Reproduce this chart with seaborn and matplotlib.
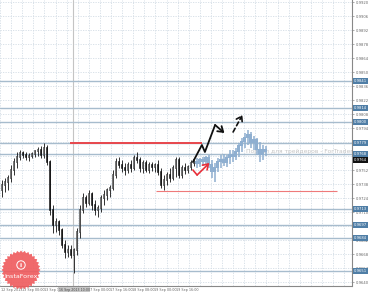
import numpy as np
import pandas as pd
import matplotlib
matplotlib.use("Agg")
import matplotlib.pyplot as plt
import seaborn as sns
from matplotlib.patches import Polygon, Circle
import matplotlib.transforms as mtransforms

# ---------------- data ----------------
opens = [0.9732, 0.9737, 0.9740, 0.9744, 0.9752, 0.9760, 0.9765, 0.9769, 0.9767, 0.9765,
         0.9766, 0.9768, 0.9771, 0.9772, 0.9767, 0.9774, 0.9760, 0.9712, 0.9697, 0.9700,
         0.9692, 0.9677, 0.9670, 0.9672, 0.9667, 0.9672, 0.9690, 0.9712, 0.9724, 0.9719,
         0.9728, 0.9717, 0.9712, 0.9714, 0.9724, 0.9727, 0.9732, 0.9734, 0.9747, 0.9760,
         0.9757, 0.9754, 0.9752, 0.9757, 0.9754, 0.9764, 0.9762, 0.9754, 0.9759, 0.9752,
         0.9757, 0.9755, 0.9757, 0.9750, 0.9737, 0.9742, 0.9747, 0.9744, 0.9754, 0.9762,
         0.9747, 0.9754, 0.9752, 0.9755, 0.9759]
highs = [0.9742, 0.9744, 0.9747, 0.9757, 0.9764, 0.9770, 0.9772, 0.9771, 0.9770, 0.9769,
         0.9770, 0.9772, 0.9775, 0.9776, 0.9779, 0.9777, 0.9762, 0.9717, 0.9704, 0.9702,
         0.9694, 0.9682, 0.9677, 0.9677, 0.9674, 0.9694, 0.9717, 0.9729, 0.9727, 0.9732,
         0.9730, 0.9722, 0.9717, 0.9727, 0.9732, 0.9734, 0.9737, 0.9752, 0.9764, 0.9765,
         0.9762, 0.9759, 0.9760, 0.9762, 0.9767, 0.9770, 0.9765, 0.9762, 0.9762, 0.9760,
         0.9760, 0.9759, 0.9762, 0.9754, 0.9747, 0.9750, 0.9754, 0.9757, 0.9765, 0.9765,
         0.9757, 0.9759, 0.9757, 0.9762, 0.9764]
lows = [0.9725, 0.9730, 0.9732, 0.9740, 0.9747, 0.9754, 0.9762, 0.9764, 0.9762, 0.9761,
        0.9764, 0.9765, 0.9766, 0.9764, 0.9764, 0.9757, 0.9707, 0.9689, 0.9690, 0.9687,
        0.9674, 0.9664, 0.9665, 0.9664, 0.9649, 0.9667, 0.9684, 0.9709, 0.9715, 0.9717,
        0.9712, 0.9707, 0.9705, 0.9710, 0.9717, 0.9722, 0.9725, 0.9732, 0.9744, 0.9754,
        0.9750, 0.9747, 0.9749, 0.9750, 0.9752, 0.9759, 0.9750, 0.9749, 0.9750, 0.9749,
        0.9751, 0.9750, 0.9747, 0.9734, 0.9732, 0.9737, 0.9740, 0.9742, 0.9745, 0.9744,
        0.9744, 0.9748, 0.9749, 0.9752, 0.9756]
closes = [0.9737, 0.9740, 0.9744, 0.9752, 0.9760, 0.9765, 0.9769, 0.9767, 0.9765, 0.9766,
          0.9768, 0.9771, 0.9772, 0.9767, 0.9774, 0.9760, 0.9712, 0.9697, 0.9700, 0.9692,
          0.9677, 0.9670, 0.9672, 0.9667, 0.9672, 0.9690, 0.9712, 0.9724, 0.9719, 0.9728,
          0.9717, 0.9712, 0.9714, 0.9724, 0.9727, 0.9732, 0.9734, 0.9747, 0.9760, 0.9757,
          0.9754, 0.9752, 0.9757, 0.9754, 0.9764, 0.9762, 0.9754, 0.9759, 0.9752, 0.9757,
          0.9755, 0.9757, 0.9750, 0.9737, 0.9742, 0.9747, 0.9744, 0.9754, 0.9762, 0.9747,
          0.9754, 0.9752, 0.9755, 0.9759, 0.9762]

# projected (analog) candles
proj_open = [0.9760, 0.9758, 0.9762, 0.9760, 0.9764, 0.9757, 0.9750, 0.9754, 0.9760, 0.9762,
             0.9759, 0.9764, 0.9767, 0.9765, 0.9770, 0.9776, 0.9780, 0.9784, 0.9787, 0.9779,
             0.9782, 0.9772, 0.9767, 0.9772]
proj_high = [0.9764, 0.9764, 0.9765, 0.9766, 0.9767, 0.9762, 0.9759, 0.9764, 0.9767, 0.9768,
             0.9767, 0.9772, 0.9772, 0.9774, 0.9779, 0.9784, 0.9789, 0.9792, 0.9790, 0.9786,
             0.9784, 0.9780, 0.9777, 0.9776]
proj_low = [0.9754, 0.9755, 0.9756, 0.9757, 0.9754, 0.9744, 0.9740, 0.9750, 0.9754, 0.9756,
            0.9755, 0.9758, 0.9760, 0.9762, 0.9765, 0.9770, 0.9774, 0.9777, 0.9774, 0.9772,
            0.9767, 0.9760, 0.9762, 0.9766]
proj_close = [0.9758, 0.9762, 0.9760, 0.9764, 0.9757, 0.9750, 0.9754, 0.9760, 0.9762, 0.9759,
              0.9764, 0.9767, 0.9765, 0.9770, 0.9776, 0.9780, 0.9784, 0.9787, 0.9779, 0.9782,
              0.9772, 0.9767, 0.9772, 0.9770]

levels = [0.9841, 0.9814, 0.9800, 0.9779, 0.9768, 0.9713, 0.9697, 0.9684, 0.9651]
level_labels = ["0.9841", "0.9814", "0.9800", "0.9779", "0.9768", "0.9713", "0.9697", "0.9684", "0.9651"]
current_price = 0.9764
current_label = "0.9764"

resistance = 0.9779          # thick red line
resistance_span = (22.8, 66.8)
support = 0.9731             # thin red line
support_span = (51.5, 111.8)

path_x = [63.8, 66.8, 67.8, 71.2, 74.3]
path_y = [0.9760, 0.9777, 0.9770, 0.9797, 0.9789]
dash_x = [77.2, 80.3]
dash_y = [0.9790, 0.9807]
red_x = [63.8, 65.2, 69.3]
red_y = [0.9752, 0.9747, 0.9759]

ytick_vals = [0.9920, 0.9906, 0.9892, 0.9878, 0.9864, 0.9850, 0.9836, 0.9822, 0.9808, 0.9794,
              0.9780, 0.9766, 0.9752, 0.9738, 0.9724, 0.9710, 0.9696, 0.9682, 0.9668, 0.9654, 0.9640]
xtick_pos = [-0.2, 6.8, 14.2, 28.8, 36.2, 43.5, 50.8, 58.2]
xtick_labels = ["12 Sep 2013", "13 Sep 00:00", "13 Sep 16:00", "17 Sep 00:00",
                "17 Sep 16:00", "18 Sep 08:00", "19 Sep 00:00", "19 Sep 16:00"]
cursor_x = 24.2
cursor_label = "16 Sep 2013 10:00"

# ---------------- figure ----------------
sns.set_style("white")
plt.rcParams['font.family'] = ['DejaVu Sans']

fig = plt.figure(figsize=(3.69, 2.93), dpi=100)
ax = fig.add_axes([0, 7 / 293, 352 / 369, 286 / 293])
ax.set_xlim(-0.5, 116.83)
ax.set_ylim(0.9636, 0.9922)

# grid
for yv in ytick_vals:
    ax.axhline(yv, color="#d3dde5", lw=0.6, ls=(0, (1.5, 1.5)), zorder=0)
for gx in np.arange(0, 353, 11.1):
    ax.axvline((gx - 1.5) / 3, color="#d3dde5", lw=0.6, ls=(0, (1.5, 1.5)), zorder=0)
ax.axvline(23.8, color="#c4c4c4", lw=0.8, zorder=0.5)

# levels
for lv in levels:
    ax.axhline(lv, color="#a7bccd", lw=1.0, zorder=1)

ax.hlines(resistance, *resistance_span, color="#e8474c", lw=1.4, zorder=2)
ax.hlines(support, *support_span, color="#ee7a7a", lw=0.8, zorder=2)

# watermark
ax.text(81.5, 0.9771, "Портал для трейдеров - ForTrader.ru", fontsize=4.3,
        color="#c4c4c4", va="center", ha="left", zorder=1.5, clip_on=True)

# projected candles
px_idx = np.arange(len(closes), len(closes) + len(proj_close))
ax.vlines(px_idx, proj_low, proj_high, color="#8fafd0", lw=1.1, zorder=3)
pb = np.minimum(proj_open, proj_close)
ph = np.abs(np.array(proj_close) - np.array(proj_open)) + 0.00012
ax.bar(px_idx, ph, bottom=pb, width=0.9, color="#8fafd0", edgecolor="none", zorder=3)

# historical candles
idx = np.arange(len(closes))
o = np.array(opens); c = np.array(closes)
ax.vlines(idx, lows, highs, color="#111111", lw=0.6, zorder=4)
bull = c >= o
ax.bar(idx[bull], (c - o)[bull] + 0.00008, bottom=o[bull], width=0.65,
       color="white", edgecolor="#111111", linewidth=0.4, zorder=5)
ax.bar(idx[~bull], (o - c)[~bull] + 0.00008, bottom=c[~bull], width=0.65,
       color="#111111", edgecolor="#111111", linewidth=0.4, zorder=5)

# arrows
head = "->,head_length=0.45,head_width=0.3"
sns.lineplot(x=path_x[:-1], y=path_y[:-1], sort=False, color="#111111", lw=1.3, ax=ax, zorder=6)
ax.annotate("", xy=(path_x[-1], path_y[-1]), xytext=(path_x[-2], path_y[-2]),
            arrowprops=dict(arrowstyle=head, color="#111111",
                            lw=1.3, mutation_scale=8, shrinkA=0, shrinkB=0), zorder=6)
ax.annotate("", xy=(dash_x[1], dash_y[1]), xytext=(dash_x[0], dash_y[0]),
            arrowprops=dict(arrowstyle=head, color="#111111",
                            lw=1.2, ls=(0, (2.5, 1.8)), mutation_scale=8, shrinkA=0, shrinkB=0), zorder=6)
sns.lineplot(x=red_x[:-1], y=red_y[:-1], sort=False, color="#e8303a", lw=1.2, ax=ax, zorder=6)
ax.annotate("", xy=(red_x[-1], red_y[-1]), xytext=(red_x[-2], red_y[-2]),
            arrowprops=dict(arrowstyle=head, color="#e8303a",
                            lw=1.2, mutation_scale=8, shrinkA=0, shrinkB=0), zorder=6)

# axes styling
for s in ["top", "left", "bottom"]:
    ax.spines[s].set_visible(False)
ax.spines["right"].set_color("#888888")
ax.spines["right"].set_linewidth(0.8)
ax.axhline(0.9636, color="#888888", lw=0.8, clip_on=False)
ax.yaxis.tick_right()
ax.set_yticks(ytick_vals)
ax.set_yticklabels([f"{v:.4f}" for v in ytick_vals], fontsize=2.7, color="#666666")
ax.tick_params(axis="y", length=1.5, width=0.5, color="#888888", pad=1.0)
ax.set_xticks([])

trans = mtransforms.blended_transform_factory(ax.transData, ax.transAxes)
for xp, lab in zip(xtick_pos, xtick_labels):
    ax.text(xp, -0.006, lab, transform=trans, fontsize=2.4, color="#666666",
            ha="left", va="top", clip_on=False)
ax.text(cursor_x, -0.006, cursor_label, transform=trans, fontsize=2.3, color="#444444",
        ha="center", va="top", clip_on=False, zorder=8,
        bbox=dict(boxstyle="square,pad=0.2", fc="#c8c8c8", ec="none"))

trans_y = mtransforms.blended_transform_factory(ax.transAxes, ax.transData)
for lv, lab in zip(levels, level_labels):
    ax.text(1.006, lv, lab, transform=trans_y, fontsize=2.7, color="white",
            ha="left", va="center", clip_on=False,
            bbox=dict(boxstyle="square,pad=0.25", fc="#4f7ea6", ec="none"))
ax.text(1.006, current_price, current_label, transform=trans_y, fontsize=2.7, color="white",
        ha="left", va="top", clip_on=False, zorder=8,
        bbox=dict(boxstyle="square,pad=0.25", fc="#111111", ec="none"))

# InstaForex logo overlay
ov = fig.add_axes([0, 0, 1, 1], zorder=10)
ov.set_xlim(0, 369); ov.set_ylim(293, 0); ov.axis("off")
ang = np.linspace(0, 2 * np.pi, 65)[:-1]
rad = np.where(np.arange(64) % 2 == 0, 19.5, 17.5)
ov.add_patch(Polygon(np.c_[21 + rad * np.cos(ang), 270 + rad * np.sin(ang)],
                     closed=True, fc="#ef5a5c", ec="none", alpha=0.9))
ov.add_patch(Circle((21, 265), 4.2, fc="none", ec="white", lw=0.7))
ov.text(21, 265.3, "i", color="white", fontsize=4.5, ha="center", va="center", fontweight="bold")
ov.text(21, 276.5, "InstaForex", color="white", fontsize=4.6, ha="center", va="center")

fig.savefig("out.png", dpi=100)
